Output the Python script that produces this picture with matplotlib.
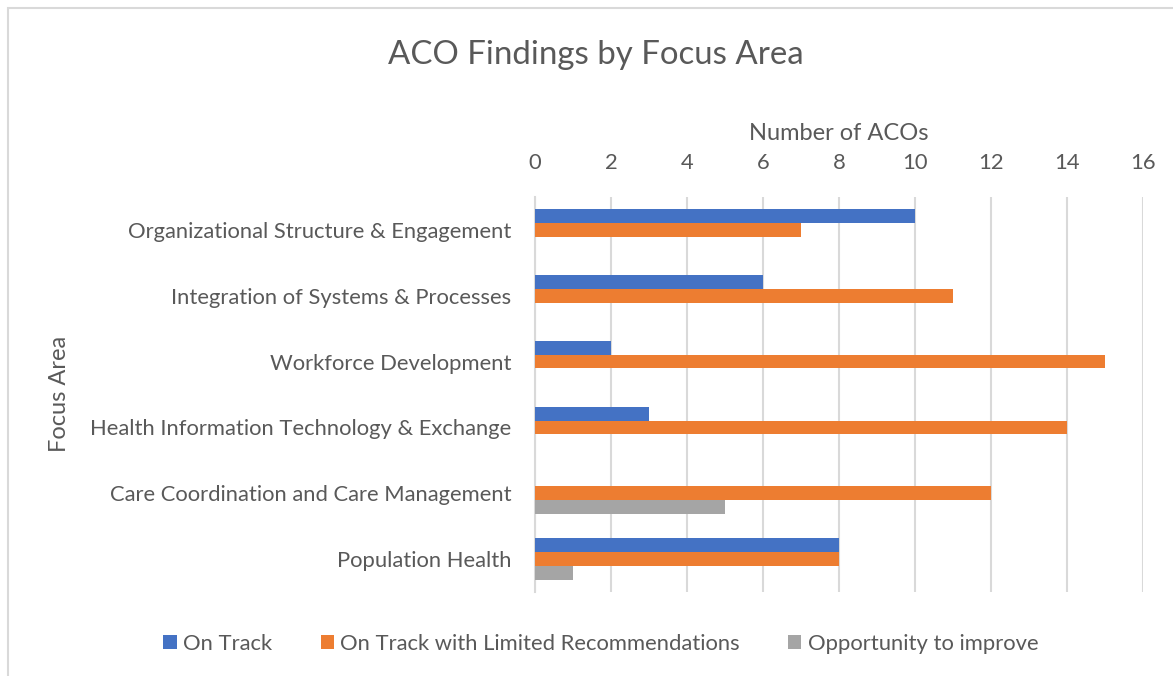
import numpy as np
import matplotlib
matplotlib.use('Agg')
import matplotlib.pyplot as plt
from matplotlib.patches import Rectangle

plt.rcParams['font.family'] = ['Lato', 'DejaVu Sans']

# data
areas = [
    'Organizational Structure & Engagement',
    'Integration of Systems & Processes',
    'Workforce Development',
    'Health Information Technology & Exchange',
    'Care Coordination and Care Management',
    'Population Health',
]
on_track = [10, 6, 2, 3, 0, 8]
limited_recs = [7, 11, 15, 14, 12, 8]
opportunity = [0, 0, 0, 0, 5, 1]
series_names = ['On Track', 'On Track with Limited Recommendations', 'Opportunity to improve']
x_ticks = [0, 2, 4, 6, 8, 10, 12, 14, 16]

colors = ['#4472C4', '#ED7D31', '#A5A5A5']
text_color = '#595959'

fig = plt.figure(figsize=(11.73, 6.76), dpi=100)
ax = fig.add_axes([535 / 1173, 1 - 592 / 676, (1143 - 535) / 1173, (592 - 197) / 676])

# outer chart frame
fig.patches.append(Rectangle((8 / 1173, -0.05), 1.2, 1 - 8 / 676 + 0.05,
                             transform=fig.transFigure, fill=False,
                             edgecolor='#D9D9D9', linewidth=1.5))

y = np.arange(len(areas))
h = 0.21
for i, (vals, name) in enumerate(zip([on_track, limited_recs, opportunity], series_names)):
    ax.barh(y + (i - 1) * h, vals, height=h, color=colors[i], label=name, zorder=3)

ax.set_ylim(len(areas) - 0.5, -0.5)
ax.set_xlim(0, 16)
ax.set_yticks(y)
ax.set_yticklabels(areas)
ax.set_xticks(x_ticks)
ax.xaxis.tick_top()
ax.xaxis.set_label_position('top')
ax.tick_params(axis='both', length=0, labelsize=15.8, labelcolor=text_color)
ax.tick_params(axis='x', pad=17)
ax.tick_params(axis='y', pad=17)
ax.grid(axis='x', color='#D9D9D9', linewidth=1.5, zorder=0)
for s in ['top', 'right', 'bottom']:
    ax.spines[s].set_visible(False)
ax.spines['left'].set_color('#D9D9D9')
ax.spines['left'].set_linewidth(1.5)

ax.set_xlabel('Number of ACOs', fontsize=17, color=text_color, labelpad=10)

fig.text(60 / 1173, 1 - 394 / 676, 'Focus Area', fontsize=17, color=text_color,
         rotation=90, ha='center', va='center')

fig.text(596 / 1173, 1 - 55 / 676, 'ACO Findings by Focus Area', fontsize=23.8,
         color=text_color, ha='center', va='center')

fig.legend(loc='center', bbox_to_anchor=(601 / 1173, 1 - 644 / 676), ncol=3,
           frameon=False, fontsize=15.8, labelcolor=text_color,
           handlelength=0.6, handleheight=0.6, handletextpad=0.3, columnspacing=2.2)

fig.savefig('out.png', dpi=100)
